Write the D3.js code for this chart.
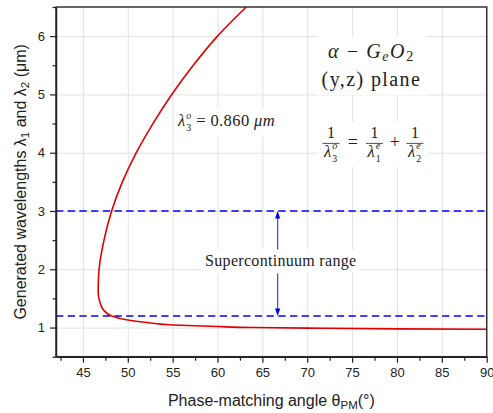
<!DOCTYPE html>
<html>
<head>
<meta charset="utf-8">
<script src="https://cdn.jsdelivr.net/npm/d3@7"></script>
<style>
  html, body { margin: 0; padding: 0; background: #fff; }
  svg { display: block; }
</style>
</head>
<body>
<svg id="chart" width="493" height="413"></svg>
<script>
// Phase-matching curve (angle in degrees, wavelength in um)
const curveAngles = [63.2, 60.0, 57.3, 54.9, 52.8, 50.95, 49.4, 48.2, 47.35, 46.8, 46.72, 46.7, 46.97, 47.3, 48.2, 50.0, 51.9, 55.0, 60.0, 64.2, 70, 80, 90];
const curveWavelengths = [6.5, 6.0, 5.5, 5.0, 4.5, 4.0, 3.5, 3.0, 2.5, 2.0, 1.8, 1.6, 1.4, 1.3, 1.2, 1.13, 1.09, 1.045, 1.017, 1.0, 0.99, 0.977, 0.97];

// Supercontinuum range bounds (dashed lines)
const rangeBounds = [3.0, 1.2];
const arrowAngle = 66.7;

const xMajorTicks = [45, 50, 55, 60, 65, 70, 75, 80, 85, 90];
const xMinorTicks = [42.5, 47.5, 52.5, 57.5, 62.5, 67.5, 72.5, 77.5, 82.5, 87.5];
const yMajorTicks = [1, 2, 3, 4, 5, 6];
const yMinorTicks = [0.5, 1.5, 2.5, 3.5, 4.5, 5.5, 6.5];

const W = 493, H = 413;
const margin = { top: 7, right: 6.3, bottom: 56.3, left: 56 };
const plotW = W - margin.left - margin.right;
const plotH = H - margin.top - margin.bottom;

const svg = d3.select('#chart');
const g = svg.append('g').attr('transform', `translate(${margin.left},${margin.top})`);

const x = d3.scaleLinear().domain([42, 90]).range([0, plotW]);
const y = d3.scaleLinear().domain([0.5, 6.5]).range([plotH, 0]);

const sans = '"Liberation Sans", Arial, sans-serif';
const serif = '"Liberation Serif", "Times New Roman", serif';
const ink = '#222';

// grid
g.append('g')
  .attr('transform', `translate(0,${plotH})`)
  .call(d3.axisBottom(x).tickValues(xMajorTicks).tickSize(-plotH).tickFormat(''))
  .call(s => s.select('.domain').remove())
  .call(s => s.selectAll('line').attr('stroke', '#e2e2e2').attr('stroke-width', 1));
g.append('g')
  .call(d3.axisLeft(y).tickValues(yMajorTicks).tickSize(-plotW).tickFormat(''))
  .call(s => s.select('.domain').remove())
  .call(s => s.selectAll('line').attr('stroke', '#e2e2e2').attr('stroke-width', 1));

// dashed range lines
g.append('g').selectAll('line')
  .data(rangeBounds)
  .join('line')
  .attr('x1', 0).attr('x2', plotW)
  .attr('y1', d => y(d)).attr('y2', d => y(d))
  .attr('stroke', '#0000ff')
  .attr('stroke-width', 1.5)
  .attr('stroke-dasharray', '7.3,4.4');

// double arrow
const ax = x(arrowAngle);
const arrowG = g.append('g');
arrowG.append('line')
  .attr('x1', ax).attr('x2', ax)
  .attr('y1', y(rangeBounds[0]) + 6).attr('y2', y(rangeBounds[1]) - 6)
  .attr('stroke', '#4a4aff').attr('stroke-width', 1.3);
arrowG.append('path')
  .attr('d', `M${ax},${y(rangeBounds[0])}L${ax - 2.6},${y(rangeBounds[0]) + 7.5}L${ax + 2.6},${y(rangeBounds[0]) + 7.5}Z`)
  .attr('fill', '#0000ff');
arrowG.append('path')
  .attr('d', `M${ax},${y(rangeBounds[1])}L${ax - 2.6},${y(rangeBounds[1]) - 7.5}L${ax + 2.6},${y(rangeBounds[1]) - 7.5}Z`)
  .attr('fill', '#0000ff');

// curve (wavelength is monotonic along the curve, so interpolate x as a function of y)
const curveData = curveAngles.map((a, i) => [a, curveWavelengths[i]]).reverse();
g.append('path')
  .datum(curveData)
  .attr('fill', 'none')
  .attr('stroke', '#e00000')
  .attr('stroke-width', 1.6)
  .attr('d', d3.line().x(d => x(d[0])).y(d => y(d[1])).curve(d3.curveMonotoneY));

// annotations with white background
const labelLayer = g.append('g');
function whiteBehind(sel, padX, padY) {
  const bb = sel.node().getBBox();
  sel.insert('rect', ':first-child')
    .attr('x', bb.x - padX).attr('y', bb.y - padY)
    .attr('width', bb.width + 2 * padX).attr('height', bb.height + 2 * padY)
    .attr('fill', '#fff');
}

// lambda with stacked superscript/subscript, as separate texts
function lambdaSym(parent, lx, ly, size, sup, sub) {
  parent.append('text')
    .attr('x', lx).attr('y', ly)
    .attr('font-family', serif).attr('font-size', size).attr('font-style', 'italic').attr('fill', ink)
    .text('λ');
  const sx = lx + size * 0.5;
  const small = size * 0.6;
  parent.append('text')
    .attr('x', sx).attr('y', ly - size * 0.45)
    .attr('font-family', serif).attr('font-size', small).attr('font-style', 'italic').attr('fill', ink)
    .text(sup);
  parent.append('text')
    .attr('x', sx).attr('y', ly + size * 0.3)
    .attr('font-family', serif).attr('font-size', small).attr('fill', ink)
    .text(sub);
  return sx + small * 0.5;
}

const scG = labelLayer.append('g');
scG.append('text')
  .attr('x', x(67.05)).attr('y', y(2.05))
  .attr('text-anchor', 'middle')
  .attr('font-family', serif).attr('font-size', 16).attr('letter-spacing', 0.3).attr('fill', ink)
  .text('Supercontinuum range');
whiteBehind(scG, 4, 3);

const l3G = labelLayer.append('g');
const l3x = lambdaSym(l3G, x(55.6), y(4.45), 16.5, 'o', '3');
const l3 = l3G.append('text')
  .attr('x', l3x + 5).attr('y', y(4.45))
  .attr('font-family', serif).attr('font-size', 16.5).attr('letter-spacing', 0.4).attr('fill', ink);
l3.append('tspan').text('= 0.860 ');
l3.append('tspan').attr('font-style', 'italic').text('μm');
whiteBehind(l3G, 3, 2);

// title block
const titleG = labelLayer.append('g');
const t1 = titleG.append('text')
  .attr('x', x(77.15)).attr('y', y(5.63))
  .attr('text-anchor', 'middle')
  .attr('font-family', serif).attr('font-size', 20).attr('letter-spacing', 1.6).attr('fill', ink);
t1.append('tspan').attr('font-style', 'italic').text('α');
t1.append('tspan').text(' − ');
t1.append('tspan').attr('font-style', 'italic').text('G');
t1.append('tspan').attr('font-style', 'italic').attr('font-size', 14).attr('dy', 3).text('e');
t1.append('tspan').attr('font-style', 'italic').attr('dy', -3).text('O');
t1.append('tspan').attr('font-size', 14).attr('dy', 3).text('2');
titleG.append('text')
  .attr('x', x(77.15)).attr('y', y(5.14))
  .attr('text-anchor', 'middle')
  .attr('font-family', serif).attr('font-size', 20).attr('letter-spacing', 1.4).attr('fill', ink)
  .text('(y,z) plane');
whiteBehind(titleG, 5, 4);

// formula 1/λ3 = 1/λ1 + 1/λ2
const fracG = labelLayer.append('g');
const fracs = [
  { cx: x(72.65), sup: 'o', sub: '3' },
  { cx: x(77.5), sup: 'e', sub: '1' },
  { cx: x(82.0), sup: 'e', sub: '2' }
];
const barY = y(4.16);
fracs.forEach(f => {
  fracG.append('text')
    .attr('x', f.cx).attr('y', barY - 5)
    .attr('text-anchor', 'middle')
    .attr('font-family', serif).attr('font-size', 16).attr('fill', ink)
    .text('1');
  fracG.append('line')
    .attr('x1', f.cx - 8.5).attr('x2', f.cx + 8.5)
    .attr('y1', barY).attr('y2', barY)
    .attr('stroke', ink).attr('stroke-width', 0.8);
  lambdaSym(fracG, f.cx - 7, barY + 13.5, 16.5, f.sup, f.sub);
});
fracG.append('text')
  .attr('x', (fracs[0].cx + fracs[1].cx) / 2).attr('y', barY + 5)
  .attr('text-anchor', 'middle')
  .attr('font-family', serif).attr('font-size', 18).attr('fill', ink)
  .text('=');
fracG.append('text')
  .attr('x', (fracs[1].cx + fracs[2].cx) / 2).attr('y', barY + 5)
  .attr('text-anchor', 'middle')
  .attr('font-family', serif).attr('font-size', 18).attr('fill', ink)
  .text('+');
whiteBehind(fracG, 5, 3);

// frame
g.append('rect')
  .attr('width', plotW).attr('height', plotH)
  .attr('fill', 'none')
  .attr('stroke', '#333').attr('stroke-width', 1.5);

// axes
const xAxisG = g.append('g')
  .attr('transform', `translate(0,${plotH})`)
  .call(d3.axisBottom(x).tickValues(xMajorTicks).tickSize(6).tickSizeOuter(0).tickPadding(5).tickFormat(d3.format('d')));
const xMinorG = g.append('g')
  .attr('transform', `translate(0,${plotH})`)
  .call(d3.axisBottom(x).tickValues(xMinorTicks).tickSize(4).tickSizeOuter(0).tickFormat(''));
const yAxisG = g.append('g')
  .call(d3.axisLeft(y).tickValues(yMajorTicks).tickSize(6).tickSizeOuter(0).tickPadding(5).tickFormat(d3.format('d')));
const yMinorG = g.append('g')
  .call(d3.axisLeft(y).tickValues(yMinorTicks).tickSize(3.5).tickSizeOuter(0).tickFormat(''));
[xMinorG, yMinorG].forEach(a => a.select('.domain').remove());
[xAxisG, yAxisG, xMinorG, yMinorG].forEach(a => {
  a.select('.domain').attr('stroke', ink).attr('stroke-width', 1.5);
  a.selectAll('.tick line').attr('stroke', ink).attr('stroke-width', 1.2);
  a.selectAll('text').attr('font-family', sans).attr('font-size', 13).attr('fill', ink);
});

// axis titles
const xt = svg.append('text')
  .attr('x', margin.left + plotW / 2).attr('y', 406)
  .attr('text-anchor', 'middle')
  .attr('font-family', sans).attr('font-size', 16).attr('fill', ink);
xt.append('tspan').text('Phase-matching angle θ');
xt.append('tspan').attr('font-size', 11.5).attr('dy', 3).text('PM');
xt.append('tspan').attr('dy', -3).text('(°)');

const yt = svg.append('text')
  .attr('transform', `translate(26,${margin.top + plotH / 2}) rotate(-90)`)
  .attr('text-anchor', 'middle')
  .attr('font-family', sans).attr('font-size', 16).attr('fill', ink);
yt.append('tspan').text('Generated wavelengths λ');
yt.append('tspan').attr('font-size', 11.5).attr('dy', 3).text('1');
yt.append('tspan').attr('dy', -3).text(' and λ');
yt.append('tspan').attr('font-size', 11.5).attr('dy', 3).text('2');
yt.append('tspan').attr('dy', -3).text(' (μm)');
</script>
</body>
</html>
